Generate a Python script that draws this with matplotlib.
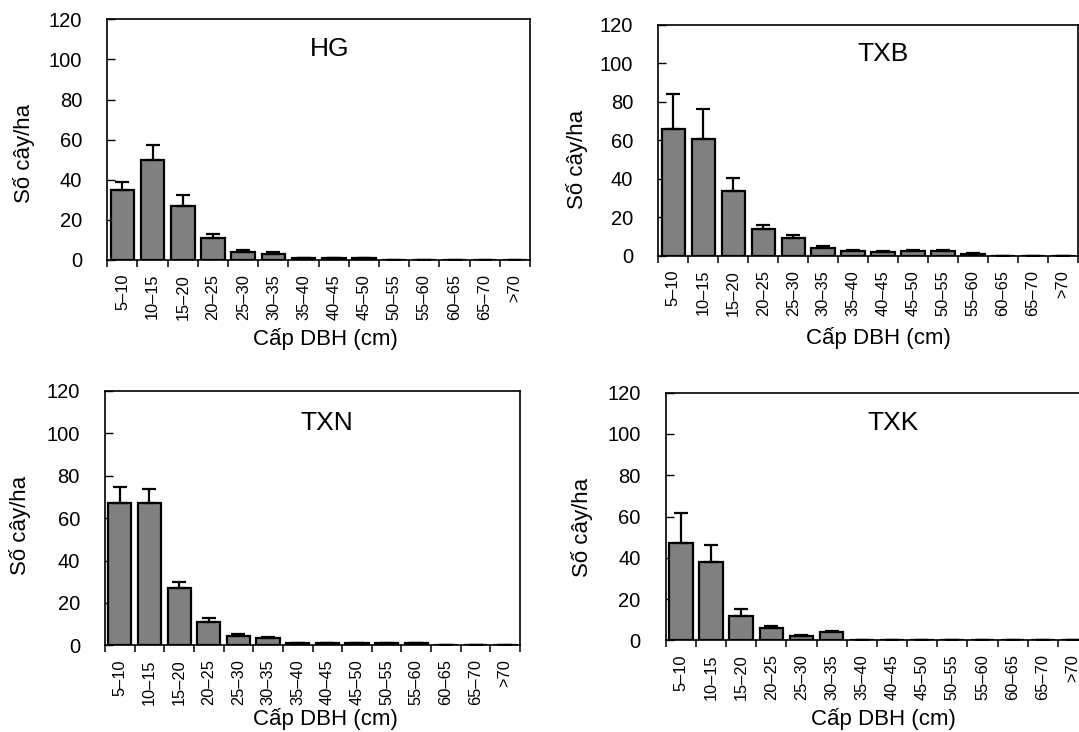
import numpy as np
import matplotlib
matplotlib.use("Agg")
import matplotlib.pyplot as plt

plt.rcParams['font.family'] = ['Liberation Sans', 'DejaVu Sans']

# DBH classes
classes = ["5\u201310", "10\u201315", "15\u201320", "20\u201325", "25\u201330", "30\u201335", "35\u201340",
           "40\u201345", "45\u201350", "50\u201355", "55\u201360", "60\u201365", "65\u201370", ">70"]

# trees per ha (mean) and upper error
hg_mean = [35, 50, 27, 11, 4.2, 3.0, 0.8, 0.8, 0.8, 0, 0, 0, 0, 0]
hg_err = [3.8, 7.2, 5.4, 1.9, 1.0, 1.0, 0.2, 0.2, 0.2, 0, 0, 0, 0, 0]

txb_mean = [66, 61, 34, 14, 9.4, 4.3, 2.5, 2.3, 2.5, 2.5, 1.2, 0, 0, 0]
txb_err = [18, 15.2, 6.4, 2.0, 1.5, 1.1, 0.6, 0.4, 0.6, 0.6, 0.4, 0, 0, 0]

txn_mean = [67, 67, 27, 11.2, 4.4, 3.3, 1.0, 1.0, 1.0, 1.0, 1.0, 0, 0, 0]
txn_err = [7.9, 6.9, 2.7, 1.6, 0.9, 0.6, 0.3, 0.3, 0.3, 0.3, 0.3, 0, 0, 0]

txk_mean = [47, 38, 12, 6.1, 2.1, 4.2, 0, 0, 0, 0, 0, 0, 0, 0]
txk_err = [14.5, 8.4, 3.1, 0.8, 0.5, 0.5, 0, 0, 0, 0, 0, 0, 0, 0]

panels = [
    ("HG", hg_mean, hg_err),
    ("TXB", txb_mean, txb_err),
    ("TXN", txn_mean, txn_err),
    ("TXK", txk_mean, txk_err),
]

W, H = 1079, 732
fig = plt.figure(figsize=(W / 100, H / 100), dpi=100)

# axes boxes in pixels: left, right, top, bottom
boxes = [(107.3, 530, 19.3, 260), (658.3, 1078, 25, 256),
         (105, 520, 391, 645.3), (665.7, 1088, 392.7, 640.3)]
# title, xlabel, ylabel centres in pixels
title_px = [(330, 49), (883, 54), (327, 423), (893, 423)]
xlab_px = [(325, 339), (878, 338), (325, 719), (883, 719)]
ylab_px = [(24, 153), (577, 159), (20, 525), (582, 527)]

x = np.arange(len(classes))
for i, (name, mean, err) in enumerate(panels):
    l, r, t, b = boxes[i]
    ax = fig.add_axes([l / W, 1 - b / H, (r - l) / W, (b - t) / H])
    ax.bar(x, mean, width=0.78, color='#808080', edgecolor='black', linewidth=1.6, zorder=2)
    ax.errorbar(x, mean, yerr=[np.zeros(len(err)), err], fmt='none', ecolor='black',
                elinewidth=1.6, capsize=5, capthick=1.6, zorder=3)
    ax.set_xlim(-0.5, len(classes) - 0.5)
    ax.set_ylim(0, 120)
    ax.set_yticks(np.arange(0, 121, 20))
    ax.tick_params(axis='y', direction='in', length=5.5, width=1.0, pad=18, labelsize=14.5)
    ax.set_xticks(np.arange(len(classes) + 1) - 0.5)
    ax.set_xticklabels([])
    ax.set_xticks(x, minor=True)
    ax.set_xticklabels(classes, minor=True, rotation=90, fontsize=11.8)
    ax.tick_params(axis='x', which='major', direction='out', length=5, width=1.1)
    ax.tick_params(axis='x', which='minor', length=0, pad=10)
    for s in ax.spines.values():
        s.set_linewidth(1.2)

    ax.text((title_px[i][0] - l) / (r - l), (b - title_px[i][1]) / (b - t), name,
            transform=ax.transAxes, ha='center', va='center', fontsize=19)
    ax.set_xlabel("Cấp DBH (cm)", fontsize=16)
    ax.xaxis.set_label_coords(xlab_px[i][0] / W, 1 - xlab_px[i][1] / H, transform=fig.transFigure)
    ax.xaxis.label.set_va('center')
    ax.set_ylabel("Số cây/ha", fontsize=16)
    ax.yaxis.set_label_coords(ylab_px[i][0] / W, 1 - ylab_px[i][1] / H, transform=fig.transFigure)
    ax.yaxis.label.set_va('center')

fig.savefig("out.png", dpi=100)
